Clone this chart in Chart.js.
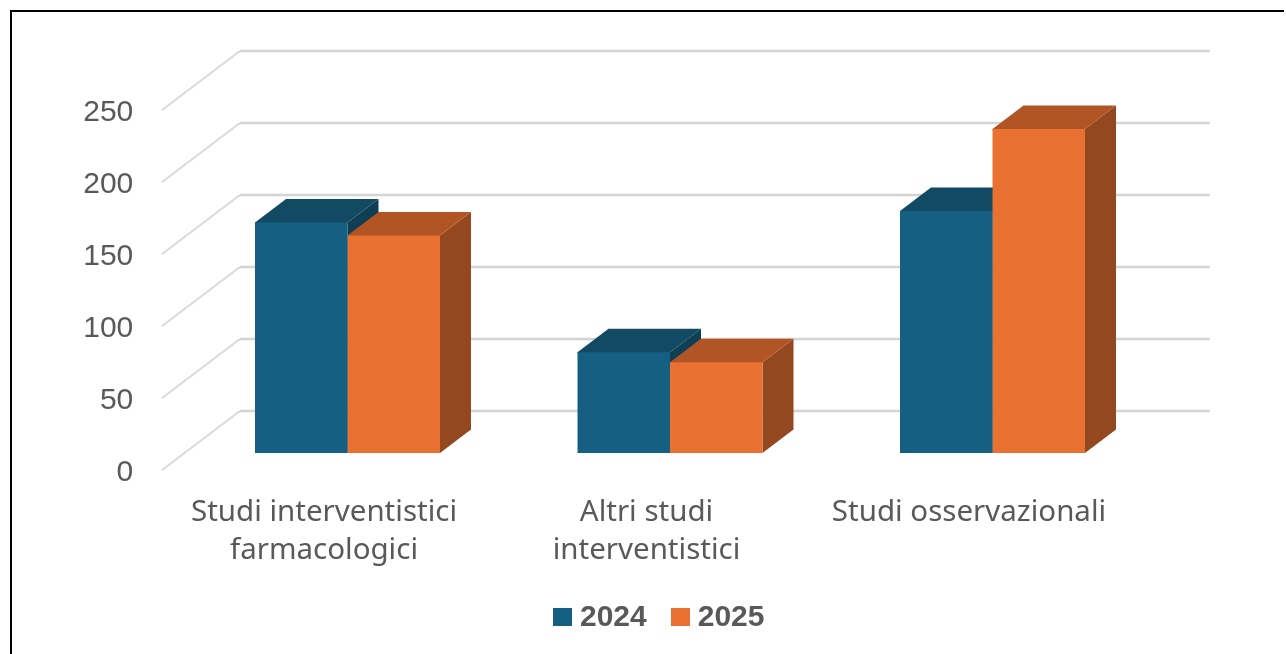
<!DOCTYPE html>
<html>
<head>
<meta charset="utf-8">
<script src="https://cdn.jsdelivr.net/npm/chart.js@4"></script>
<style>
    html, body { margin: 0; padding: 0; background: #fff; overflow: hidden; }
    #wrap { position: relative; width: 1286px; height: 654px; }
    #frame { position: absolute; left: 10px; top: 10px; width: 1274px; height: 644px; border-left: 2.5px solid #000; border-top: 2.5px solid #000; box-sizing: border-box; }
    canvas { position: absolute; left: 0; top: 0; }
    #legend { position: absolute; left: 553px; top: 599px; display: flex; font: bold 30px "Liberation Sans", sans-serif; color: #595959; line-height: 34px; }
    #legend span { display: flex; align-items: center; margin-right: 24px; }
    #legend i { display: block; width: 19px; height: 18px; margin-right: 8px; margin-top: 2px; }
</style>
</head>
<body>
<div id="wrap">
    <div id="frame"></div>
    <canvas id="chart" width="1286" height="654"></canvas>
    <div id="legend"></div>
</div>
<script>
const categories = [
    ['Studi interventistici', 'farmacologici'],
    ['Altri studi', 'interventistici'],
    'Studi osservazionali'
];
const years = ['2024', '2025'];
const values2024 = [160, 70, 168];
const values2025 = [151, 63, 225];
const yTicks = [0, 50, 100, 150, 200, 250];

const frontColors = ['#156082', '#E97132'];
const topColors = ['#124A63', '#B25525'];
const sideColors = ['#0E3F55', '#94481F'];

// depth of the bars, and how far the back wall sits from them
const barDepthX = 31, barDepthY = 23.5;
const wallLeft = 240, wallRight = 1210, wallRise = 42;
const floorLeft = 162, floorDrop = 17;

function poly(ctx, pts, color) {
    ctx.fillStyle = color;
    ctx.beginPath();
    pts.forEach((p, i) => i ? ctx.lineTo(p[0], p[1]) : ctx.moveTo(p[0], p[1]));
    ctx.closePath();
    ctx.fill();
}

// Fake 3D: back wall lines and the top/side faces, library draws the front faces
const fake3d = {
    id: 'fake3d',
    beforeDatasetsDraw(chart) {
        const ctx = chart.ctx;
        const y = chart.scales.y;
        ctx.save();
        ctx.lineJoin = 'miter';
        yTicks.forEach(t => {
            const py = y.getPixelForValue(t);
            ctx.strokeStyle = '#DADADA';
            ctx.lineWidth = 2;
            ctx.beginPath();
            ctx.moveTo(floorLeft, py + floorDrop);
            ctx.lineTo(wallLeft, py - wallRise);
            ctx.stroke();
            ctx.strokeStyle = '#D4D4D4';
            ctx.lineWidth = 2.5;
            ctx.beginPath();
            ctx.moveTo(wallLeft, py - wallRise);
            ctx.lineTo(wallRight, py - wallRise);
            ctx.stroke();
        });
        categories.forEach((c, i) => {
            years.forEach((yr, d) => {
                const bar = chart.getDatasetMeta(d).data[i];
                const half = bar.width / 2;
                const l = bar.x - half, r = bar.x + half, t = bar.y, b = bar.base;
                poly(ctx, [[r, t], [r + barDepthX, t - barDepthY], [r + barDepthX, b - barDepthY], [r, b]], sideColors[d]);
                // 1px overlap under the front face so no seam shows through
                poly(ctx, [[l, t + 1], [l, t], [l + barDepthX, t - barDepthY], [r + barDepthX, t - barDepthY], [r, t], [r, t + 1]], topColors[d]);
            });
        });
        ctx.restore();
    }
};

new Chart(document.getElementById('chart').getContext('2d'), {
    type: 'bar',
    data: {
        labels: categories,
        datasets: [
            { label: years[0], data: values2024, backgroundColor: frontColors[0] },
            { label: years[1], data: values2025, backgroundColor: frontColors[1] }
        ]
    },
    options: {
        responsive: false,
        animation: false,
        layout: { padding: { top: 93, right: 132.25, left: 0, bottom: 0 } },
        datasets: { bar: { barPercentage: 1, categoryPercentage: 0.5736 } },
        scales: {
            x: {
                grid: { display: false },
                border: { display: false },
                afterFit: s => { s.height = 201; },
                ticks: {
                    color: '#595959',
                    font: { family: 'Noto Sans', size: 29.5, lineHeight: 1.3 },
                    padding: 32,
                    labelOffset: -23.5,
                    maxRotation: 0,
                    autoSkip: false
                }
            },
            y: {
                min: 0,
                max: 250,
                grid: { display: false },
                border: { display: false },
                afterFit: s => { s.width = 186.25; },
                afterBuildTicks: s => { s.ticks = yTicks.map(v => ({ value: v })); },
                ticks: {
                    color: '#595959',
                    font: { family: 'Liberation Sans', size: 30 },
                    padding: 45,
                    labelOffset: 20
                }
            }
        },
        plugins: {
            legend: { display: false },
            tooltip: { enabled: false }
        }
    },
    plugins: [fake3d]
});

// Legend
const legend = document.getElementById('legend');
years.forEach((yr, i) => {
    const item = document.createElement('span');
    const box = document.createElement('i');
    box.style.background = frontColors[i];
    item.appendChild(box);
    item.appendChild(document.createTextNode(yr));
    legend.appendChild(item);
});
</script>
</body>
</html>
